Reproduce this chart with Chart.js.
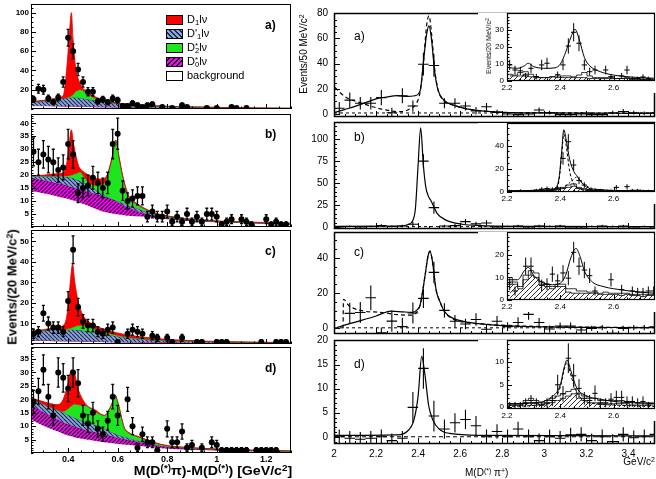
<!DOCTYPE html>
<html>
<head>
<meta charset="utf-8">
<script src="https://cdn.jsdelivr.net/npm/chart.js@4.4.1/dist/chart.umd.min.js"></script>
<style>
html, body { margin: 0; padding: 0; background: #fff; overflow: hidden; }
#fig { position: relative; width: 656px; height: 479px; font-family: "Liberation Sans", Arial, sans-serif; color: #000; }
#fig canvas { position: absolute; }
.t { position: absolute; white-space: nowrap; line-height: 1; }
.rot { transform: translate(-50%, -50%) rotate(-90deg); }
sup { font-size: 70%; vertical-align: 0; position: relative; top: -0.45em; }
sub { font-size: 70%; vertical-align: 0; position: relative; top: 0.3em; }
.sw { position: absolute; width: 17px; height: 10px; border: 1px solid #000; box-sizing: border-box; }
</style>
</head>
<body>
<div id="fig">
  <canvas id="la" style="left:0;top:0" width="300" height="113"></canvas>
  <canvas id="lb" style="left:0;top:110px" width="300" height="121"></canvas>
  <canvas id="lc" style="left:0;top:226px" width="300" height="122"></canvas>
  <canvas id="ld" style="left:0;top:343px" width="300" height="124"></canvas>
  <canvas id="ra" style="left:298px;top:5px" width="358" height="114"></canvas>
  <canvas id="rb" style="left:298px;top:119px" width="358" height="114"></canvas>
  <canvas id="rc" style="left:298px;top:228px" width="358" height="110"></canvas>
  <canvas id="rd" style="left:298px;top:333px" width="358" height="129"></canvas>
  <canvas id="ia" style="left:478px;top:6px" width="178" height="87"></canvas>
  <canvas id="ib" style="left:478px;top:116px" width="178" height="88"></canvas>
  <canvas id="ic" style="left:478px;top:225px" width="178" height="87"></canvas>
  <canvas id="id" style="left:478px;top:333px" width="178" height="88"></canvas>

  <!-- legend, panel a left -->
  <div class="sw" style="left:166px;top:15px;background:#f00"></div>
  <div class="t" style="left:187px;top:14px;font-size:11px">D<sub>1</sub>lν</div>
  <div class="sw" style="left:166px;top:29px;background:repeating-linear-gradient(45deg,#1a2a50 0 1px,#8ba5d6 1px 3.5px)"></div>
  <div class="t" style="left:187px;top:28px;font-size:11px">D'<sub>1</sub>lν</div>
  <div class="sw" style="left:166px;top:43px;background:#1ee61e"></div>
  <div class="t" style="left:187px;top:42px;font-size:11px">D<sup>*</sup><sub style="margin-left:-0.4em">2</sub>lν</div>
  <div class="sw" style="left:166px;top:57px;background:repeating-linear-gradient(-45deg,#000 0 1px,#ff00ff 1px 3.5px)"></div>
  <div class="t" style="left:187px;top:56px;font-size:11px">D<sup>*</sup><sub style="margin-left:-0.4em">0</sub>lν</div>
  <div class="sw" style="left:166px;top:71px;background:#fff"></div>
  <div class="t" style="left:187px;top:70px;font-size:11px">background</div>

  <div class="t" style="left:265px;top:19px;font-size:12px;font-weight:bold">a)</div>
  <div class="t" style="left:265px;top:128px;font-size:12px;font-weight:bold">b)</div>
  <div class="t" style="left:265px;top:245px;font-size:12px;font-weight:bold">c)</div>
  <div class="t" style="left:265px;top:362px;font-size:12px;font-weight:bold">d)</div>

  <div class="t rot" style="left:12px;top:287px;font-size:13px;font-weight:bold">Events/(20 MeV/c<sup>2</sup>)</div>
  <div class="t" style="right:364px;top:465px;font-size:12px;font-weight:bold;transform:scaleX(1.18);transform-origin:right center">M(D<sup>(*)</sup>π)-M(D<sup>(*)</sup>) [GeV/c<sup>2</sup>]</div>

  <div class="t" style="left:354px;top:30px;font-size:12px">a)</div>
  <div class="t" style="left:354px;top:131px;font-size:12px">b)</div>
  <div class="t" style="left:354px;top:246px;font-size:12px">c)</div>
  <div class="t" style="left:354px;top:358px;font-size:12px">d)</div>

  <div class="t rot" style="left:304px;top:54px;font-size:10px">Events/50 MeV/c<sup>2</sup></div>
  <div class="t rot" style="left:489px;top:46px;font-size:7px">Events/20 MeV/c<sup>2</sup></div>
  <div class="t" style="left:465px;top:468px;font-size:10px">M(D<sup>(*)</sup> π<sup>+</sup>)</div>
  <div class="t" style="right:1px;top:457px;font-size:10px">GeV/c<sup>2</sup></div>
</div>

<script>
// ---- left column: M(D(*)pi)-M(D(*)) in 20 MeV bins ----
const leftXTicks = [0.4, 0.6, 0.8, 1, 1.2];

const laX = [0.26,0.28,0.30,0.32,0.34,0.36,0.38,0.40,0.42,0.44,0.46,0.48,0.50,0.52,0.54,0.56,0.58,0.60,0.62,0.64,0.66,0.68,0.70,0.72,0.74,0.78,0.82,0.86,0.88,0.96,1.00,1.06,1.08,1.12];
const laY = [10,21,20,11,7,12,28,74,60,41,28,18,18,8,10,7,11,9,3,3,6,4,2,4,5,2,1,4,2,1,1,2,1,1];
const lbX = [0.26,0.28,0.30,0.32,0.34,0.36,0.38,0.40,0.42,0.44,0.46,0.48,0.50,0.52,0.54,0.56,0.58,0.60,0.62,0.64,0.66,0.68,0.70,0.72,0.74,0.76,0.78,0.80,0.82,0.84,0.86,0.88,0.90,0.92,0.94,0.96,0.98,1.00,1.02,1.04,1.06,1.10,1.12,1.14,1.20,1.22,1.24,1.26,1.28];
const lbY = [29,25,28,26,25,22,23,32,28,13,15,16,19,17,15,17,32,36,14,10,11,12,12,4,6,4,4,6,2,4,2,5,2,4,2,5,5,4,1,2,3,3,2,1,3,1,2,1,1];
const lcX = [0.26,0.28,0.30,0.32,0.34,0.36,0.38,0.40,0.42,0.44,0.46,0.48,0.50,0.52,0.54,0.56,0.58,0.60,0.64,0.66,0.68,0.70,0.74,0.76,0.80,0.82,0.86,0.92,0.94,1.00,1.02,1.04,1.18,1.24,1.26,1.28];
const lcY = [5,6,15,10,8,8,6,21,46,18,11,9,9,6,5,7,8,1,5,7,6,5,4,3,3,1,3,1,1,1,1,1,1,1,1,1];
const ldX = [0.26,0.28,0.30,0.32,0.34,0.36,0.38,0.40,0.42,0.44,0.46,0.48,0.50,0.52,0.54,0.56,0.58,0.60,0.64,0.66,0.68,0.70,0.72,0.74,0.76,0.80,0.82,0.84,0.86,0.88,0.90,0.94,0.98,1.00,1.02,1.04,1.06,1.08,1.10,1.12,1.16,1.18,1.20,1.22,1.24];
const ldY = [19,23,31,21,14,30,28,24,30,26,14,11,15,9,7,12,21,14,20,10,2,7,4,4,1,9,4,4,8,2,3,2,4,3,1,1,1,1,1,1,1,1,1,1,1];

// stacked fit components (cumulative tops): background, D0*, D1', D2*, D1
const laGrid = [0.25,0.30,0.35,0.38,0.395,0.405,0.413,0.42,0.43,0.45,0.48,0.52,0.57,0.65,0.75,0.90,1.10,1.30];
const laBg  = [3,3,2.8,2.7,2.6,2.6,2.5,2.5,2.4,2.3,2.1,1.9,1.7,1.4,1.1,0.8,0.5,0.3];
const laD0  = [3.4,3.4,3.2,3.1,3,3,2.9,2.9,2.8,2.7,2.5,2.3,2.1,1.7,1.3,1,0.6,0.4];
const laD1p = [7,8.5,10,11,11.5,12,12,12,12,11.5,10,8.5,6.5,4.5,3,2,1,0.6];
const laD2  = [7,8.5,10,11,12,12.8,13.5,15,18,20,15,10,7,4.7,3.1,2.1,1.1,0.7];
const laD1  = [7.5,9,11,14,44,78,100,72,44,26,17,11.5,7.5,5,3.3,2.2,1.2,0.8];

const lbGrid = [0.25,0.30,0.35,0.38,0.395,0.402,0.413,0.422,0.442,0.449,0.463,0.48,0.51,0.54,0.558,0.578,0.592,0.605,0.62,0.645,0.67,0.735,0.80,0.94,1.10,1.30];
const lbBg  = [14,13,12,11.3,11,10.8,10.5,10.2,9.6,9.4,8.9,8.3,7,6,5.6,5.2,5,4.8,4.6,4.3,4.1,3.8,3,2,1.5,1];
const lbD0  = [19,18,17,16.5,16,15.8,15.5,15.2,14.6,14.4,14,13.5,12.8,12,11.4,10.6,10,9.4,8.6,7.5,6.5,4.6,3.4,2.3,1.7,1.2];
const lbD1p = [19.6,19.6,19.5,19.4,19.3,19.2,19,18.7,18,17.7,17,16,14.3,12.6,11.7,10.8,10.3,9.8,9.2,8.3,7.5,5.1,3.8,2.4,1.8,1.3];
const lbD2  = [19.7,19.7,19.7,19.7,19.7,19.8,20,20.3,21,21.2,19.5,17.5,16,16.5,19.3,26.8,33.3,27,19.5,11.5,9.2,5.8,4.2,2.6,1.9,1.4];
const lbD1  = [19.8,20,20.5,21,25,30,37.5,32,23.6,22.5,21.2,20.2,18.8,18.5,20.3,27.3,33.6,27.4,20,12,9.6,6,4.3,2.7,2,1.5];

const lcGrid = [0.25,0.30,0.35,0.38,0.395,0.407,0.418,0.427,0.44,0.46,0.487,0.527,0.595,0.73,0.93,1.10,1.30];
const lcBg  = [1.5,1.5,1.4,1.3,1.3,1.2,1.2,1.2,1.2,1.1,1.1,1,0.8,0.6,0.4,0.3,0.2];
const lcD0  = [1.7,1.7,1.6,1.5,1.5,1.4,1.4,1.4,1.4,1.3,1.3,1.2,1,0.8,0.6,0.5,0.4];
const lcD1p = [6,6.5,7,7,7,7,7,7,6.8,6.5,6,5.3,3.8,2,1.2,0.8,0.5];
const lcD2  = [6.1,6.6,7.1,7.2,7.3,7.6,8,8.5,9,9,8,6.5,4.3,2.2,1.3,0.9,0.6];
const lcD1  = [6.3,7,8,9,14,28,39,30,21,14,10.5,8,5.5,3,1.5,1,0.7];

const ldGrid = [0.25,0.305,0.359,0.38,0.40,0.413,0.425,0.44,0.473,0.507,0.547,0.565,0.58,0.59,0.60,0.627,0.642,0.682,0.777,0.90,1.10,1.30];
const ldBg  = [12.5,10,8,7.2,6.5,6.2,5.9,5.6,5,4.6,4,3.8,3.6,3.5,3.4,3.2,3.1,2.7,1.8,1.2,0.7,0.4];
const ldD0  = [18,15,12.5,11.5,10.8,10.3,9.9,9.5,8.5,7.8,7,6.5,6.2,6,5.8,5.2,4.9,4.2,2.5,1.6,0.9,0.5];
const ldD1p = [20.5,18,16,15,14.2,13.7,13.2,12.5,11.5,10.5,8.9,8.2,7.6,7.2,6.8,6,5.6,4.6,2.6,1.7,1,0.6];
const ldD2  = [20.5,18,16,15.5,16.5,17.5,18.2,18,17.5,15.5,14,16,19,21.4,19,9.3,7.6,6,3,1.9,1.1,0.7];
const ldD1  = [20.6,19,18,20,26,31,30,24,18,16.2,14,16.2,19.2,21.5,19.2,9.4,7.8,6.2,3.2,2,1.2,0.8];

// ---- right column: M(D(*) pi+) in 50 MeV bins ----
const rightXTicks = [2, 2.2, 2.4, 2.6, 2.8, 3, 3.2, 3.4];
const rX = [2.025,2.075,2.125,2.175,2.225,2.275,2.325,2.375,2.425,2.475,2.525,2.575,2.625,2.675,2.725,2.775,2.825,2.875,2.925,2.975,3.025,3.075,3.125,3.175,3.225,3.275,3.325,3.375,3.425,3.475,3.525];
const raY = [4.5,11,8.5,8.5,13,1,14.5,6.3,39.5,38.5,8.5,8.5,6.3,2.5,5.8,1.3,0,-0.5,0,3.2,1,-0.5,-0.5,0,-0.5,-0.5,1,2,1,0.5,1];
const raE = [5,6,5,5,6,4,6,4.5,9,9,4,4,3.5,3,3,2,1.5,1.5,1.5,2,1.5,1.5,1.5,1.5,1.5,1.5,1.5,2,1.5,1.5,1.5];
const rbY = [0,0.5,0,0.5,1.5,0.5,1,3,75,22,1,1.5,6,3.5,4.5,0,0.5,1,0,1,0.5,1,0,0,0.5,1,0.5,1,0,0.5,0];
const rbE = [1,1,1,1,1.5,1,1.5,3,8,7,1.5,2,3,2.5,3,1,1,1.5,1,1.5,1,1.5,1,1,1,1.5,1,1.5,1,1,1];
const rcY = [null,8.5,9,17.3,-2.5,4.1,1,8.7,17,31.7,10.2,4,2.5,5,-0.5,4,1,3.3,7.9,3.3,-0.4,1.3,1.3,-0.9,0,0.4,-2.8,0,0.4,0.4,0.9];
const rcE = [0,6,6,7,3,6,5,6,5.5,6,4,3.5,3,3.5,2.5,3,2.5,3,3,2.5,2,2,2,2,1.5,1.5,2,1.5,1.5,1.5,1.5];
const rdY = [0,-0.3,-0.5,-0.3,0,-0.8,-0.3,6.1,14.2,4.3,1.6,2.9,3.6,2.3,0,1.1,0,1.6,0,-0.8,0,-0.3,0.4,0.5,-0.8,0,-1,0.5,-0.2,0,0.5];
const rdE = [1.5,1.5,1.5,1.5,1.5,1.5,1.5,3.2,4.2,3.2,2,2,2,2,1.5,1.5,1.5,1.5,1.5,1.5,1.5,1.5,1.5,1.5,1.5,1.5,1.5,1.5,1.5,1.5,1.5];

const raFit = [[2.0,1],[2.05,3.5],[2.1,6],[2.15,9],[2.2,12],[2.25,13.5],[2.3,14.5],[2.35,14],[2.385,14.5],[2.41,18.7],[2.425,41],[2.44,63],[2.452,70],[2.463,60],[2.479,33],[2.495,18.7],[2.52,11.4],[2.568,7],[2.62,4.5],[2.7,2.5],[2.8,1.3],[3.0,0.8],[3.526,0.5]];
const raAlt = [[2.005,21],[2.05,14],[2.13,8.6],[2.2,5],[2.258,2.8],[2.32,1.8],[2.36,4],[2.39,8],[2.41,18],[2.425,40],[2.44,70],[2.452,78],[2.463,65],[2.479,35],[2.495,19],[2.52,11],[2.568,7],[2.62,4.5],[2.7,2.5],[2.8,1.3],[3.0,0.8],[3.526,0.5]];
const raBase = [[2.0,0.8],[3.526,0.8]];
const rbFit = [[2.0,0.5],[2.3,1],[2.35,2.5],[2.376,8],[2.387,21],[2.399,67],[2.412,113],[2.425,70],[2.436,46],[2.447,36],[2.463,29],[2.49,15.5],[2.53,8],[2.61,3],[2.7,1.5],[3.0,0.6],[3.526,0.3]];
const rbBase = [[2.0,0.3],[3.526,0.3]];
const rcFit = [[2.013,0.4],[2.07,2.5],[2.13,4.5],[2.2,7],[2.27,9.8],[2.33,9.3],[2.37,9.1],[2.395,10.5],[2.41,13.5],[2.433,30],[2.447,41],[2.4565,43.8],[2.468,38],[2.485,22],[2.504,15],[2.528,9],[2.57,5.5],[2.615,4],[2.7,2.5],[2.8,1.5],[3.0,0.8],[3.526,0.4]];
const rcAlt = [[2.043,0],[2.045,16.5],[2.07,13],[2.14,9.8],[2.22,9.1],[2.3,7.8],[2.37,7.5],[2.395,9.5],[2.41,13.5],[2.433,30],[2.447,41],[2.4565,43.8],[2.468,38],[2.485,22],[2.504,15],[2.528,9],[2.57,5],[2.615,3.5],[2.7,2.5],[2.8,1.8],[3.0,1],[3.526,0.5]];
const rcBase = [[2.0,0.3],[3.526,0.3]];
const rdFit = [[2.0,0.3],[2.3,0.4],[2.35,1.2],[2.38,3.5],[2.40,8.5],[2.417,16.7],[2.432,13],[2.45,6.5],[2.47,3.5],[2.5,1.6],[2.55,0.7],[2.7,0.3],[3.526,0.2]];
const rdBase = [[2.0,0],[3.526,0]];

// ---- insets: 20 MeV bins ----
const insetXTicks = [2.2, 2.4, 2.6];
const iX = [2.21,2.23,2.25,2.27,2.29,2.31,2.33,2.35,2.37,2.39,2.41,2.43,2.45,2.47,2.49,2.51,2.53,2.55,2.57,2.59,2.61,2.63,2.65,2.67,2.69,2.71,2.73,2.75];
const iaY = [9.5,6.5,6,3,7.5,2.6,9.5,10.5,null,3.7,9.5,20.7,28.8,22.3,9.5,5.5,6.5,null,6.5,2.6,null,3,6.5,1.4,1.4,2.4,1.4,null];
const ibY = [1,0.5,1,0.5,1,1.5,2.5,3,2.5,3.5,29,43.4,23.3,10,6,2,1,1.5,0.5,1,4,0.5,4.6,1.5,1.5,1,1,null];
const icY = [7,4,null,15,15,null,6.5,7,11.5,8.5,12,9.7,21.2,15,13.3,10.8,4,null,null,9,null,4.6,null,4,3.5,3.5,4,4];
const idY = [0.5,0.5,0.5,1,1.5,1,0.5,1,1.5,5,3,10.9,7,4.2,2,1.5,3.1,1,1,1.8,2.2,2.2,1.3,1.3,1,1.3,0.5,null];
const iaHatch = [3,3,3,4,2.5,2,2,2,2.5,2,2,2,2,2,2,1.5,1.5,1.5,1.5,1.5,1.5,1.5,1.5,1,1,1,1,1];
const iaOpen  = [4,3.5,5,5.5,4,2.5,2,2,2.5,3,3,3,2.5,3.5,5,3,2,2,2,2,1.5,1.5,2,1.5,1.5,1,1,1];
const ibHatch = [0.5,0.5,0.5,0.5,0.5,0.5,1,1,1.5,2,3,4,5,3,2,1,1,0.5,0.5,0.5,0.5,0.5,0.5,0.5,0.5,0.5,0.5,0.5];
const ibOpen  = [1,1,1,1,1,1.5,2,2,2,3,4,6,7,4,3,2,1.5,1,1,1,1,1,1,1,1,1,1,1];
const icHatch = [8,7,5,9,11,10,7,6,5,6,6,3.5,3,3,3,3,3,2.5,2.5,2.5,2.5,2,2.5,2,2,1.5,2,2];
const icOpen  = [10,8,6,11,13,12,8,7,6,7,7,5,5,4,4,3.5,3.5,3,3.5,3,3,3,3,2.5,2.5,2.5,2.5,2.5];
const idHatch = [0.5,0.5,0.5,0.8,1,0.8,0.5,0.8,1,1.5,2,2.5,3,2,1.5,1,1,0.8,0.8,0.8,0.8,0.8,0.8,0.5,0.5,0.5,0.5,0.5];
const idOpen  = [0.8,0.8,0.8,1.5,2,1.5,1,1.5,2,2.5,3,3.5,4,3,2.5,2,2,1.5,1.5,1.5,1.5,1.5,1.2,1.2,1,1,1,1];

const iaFit = [[2.2,8],[2.24,7.5],[2.265,9],[2.28,10.5],[2.3,8.5],[2.35,7.5],[2.38,7.8],[2.40,10],[2.42,17],[2.44,26],[2.455,30.6],[2.47,25],[2.49,14],[2.51,9],[2.55,5.5],[2.6,3.5],[2.7,2],[2.755,1.6]];
const ibFit = [[2.2,1],[2.35,1.5],[2.38,3],[2.395,12],[2.405,35],[2.413,53.8],[2.422,45],[2.435,28],[2.45,18],[2.465,13],[2.48,8],[2.5,4],[2.55,2],[2.65,1.2],[2.755,1]];
const ibD1 = [[2.2,0.3],[2.38,2],[2.395,10],[2.405,32],[2.413,50],[2.422,40],[2.435,18],[2.45,7],[2.47,3],[2.5,1.2],[2.755,0.3]];
const ibD2 = [[2.2,0.2],[2.4,2],[2.43,7],[2.45,11],[2.462,13],[2.475,10],[2.5,5],[2.55,2],[2.755,0.5]];
const icFit = [[2.2,9],[2.24,9],[2.265,13],[2.28,14.5],[2.3,11],[2.33,8],[2.37,6.8],[2.40,7.5],[2.42,11],[2.44,19],[2.459,22.9],[2.475,19],[2.49,13],[2.52,8],[2.56,6],[2.6,5],[2.7,3.5],[2.755,3]];
const idFit = [[2.2,0.8],[2.3,1],[2.36,2],[2.40,5],[2.415,9],[2.425,10.5],[2.44,8],[2.46,4.5],[2.5,2.5],[2.55,1.8],[2.6,1.3],[2.755,0.8]];
const idAlt = [[2.2,0.2],[2.36,1],[2.40,4.5],[2.415,8.5],[2.425,10],[2.44,7],[2.46,3.5],[2.5,1.2],[2.6,0.5],[2.755,0.2]];

Chart.defaults.font.family = '"Liberation Sans", Arial, sans-serif';
Chart.defaults.color = '#000';

function hatch(bg, ink, back, step, w) {
    const c = document.createElement('canvas');
    c.width = c.height = step;
    const g = c.getContext('2d');
    if (bg) {
        g.fillStyle = bg;
        g.fillRect(0, 0, step, step);
    }
    g.strokeStyle = ink;
    g.lineWidth = w;
    g.beginPath();
    for (let k = -1; k <= 1; k++) {
        if (back) { g.moveTo(k * step, 0); g.lineTo(k * step + step, step); }
        else { g.moveTo(k * step, step); g.lineTo(k * step + step, 0); }
    }
    g.stroke();
    return g.createPattern(c, 'repeat');
}

const blueHatch = hatch('#8ba5d6', '#1a2a50', true, 4, 1.1);
const magHatch = hatch('#ff00ff', '#000', false, 4, 1.1);
const histHatch = hatch(null, '#000', false, 5, 0.8);

// ROOT-like frame with ticks pointing inwards
const rootFrame = {
    id: 'rootFrame',
    beforeDraw(chart, args, o) {
        if (!o.white) return;
        const g = chart.ctx;
        g.save();
        g.fillStyle = '#fff';
        g.fillRect(0, chart.chartArea.top, chart.width, chart.height - chart.chartArea.top);
        g.restore();
    },
    afterDatasetsDraw(chart, args, o) {
        const g = chart.ctx, a = chart.chartArea, sx = chart.scales.x, sy = chart.scales.y;
        g.save();
        g.strokeStyle = '#000';
        g.lineWidth = 1;
        g.beginPath();
        for (let k = Math.ceil(sx.min / o.xm - 1e-6); k * o.xm <= sx.max + 1e-9; k++) {
            const v = k * o.xm;
            const major = o.xt.some(t => Math.abs(t - v) < o.xm / 10);
            const p = Math.round(sx.getPixelForValue(v)) + 0.5;
            g.moveTo(p, a.bottom);
            g.lineTo(p, a.bottom - (major ? o.len : o.len / 2));
        }
        for (let k = Math.ceil(sy.min / o.ym - 1e-6); k * o.ym <= sy.max + 1e-9; k++) {
            const v = k * o.ym;
            const major = o.yt.some(t => Math.abs(t - v) < o.ym / 10);
            const p = Math.round(sy.getPixelForValue(v)) + 0.5;
            g.moveTo(a.left, p);
            g.lineTo(a.left + (major ? o.len : o.len / 2), p);
        }
        g.stroke();
        g.lineWidth = o.lw;
        g.strokeRect(Math.round(a.left) + 0.5, Math.round(a.top) + 0.5, Math.round(a.right - a.left) - 1, Math.round(a.bottom - a.top) - 1);
        g.restore();
    }
};

// error bars (and bin-width bars) drawn through the scales
const errBars = {
    id: 'errBars',
    afterDatasetsDraw(chart) {
        const g = chart.ctx, a = chart.chartArea, sx = chart.scales.x, sy = chart.scales.y;
        g.save();
        g.beginPath();
        g.rect(a.left, a.top, a.right - a.left, a.bottom - a.top);
        g.clip();
        g.strokeStyle = '#000';
        chart.data.datasets.forEach(ds => {
            if (!ds.errs) return;
            g.lineWidth = ds.errWidth;
            g.beginPath();
            ds.data.forEach(p => {
                const e = ds.errs === 'poisson' ? Math.sqrt(Math.max(p.y, 0)) : p.e;
                const px = sx.getPixelForValue(p.x);
                const y0 = sy.getPixelForValue(p.y - e), y1 = sy.getPixelForValue(p.y + e);
                g.moveTo(px, y0);
                g.lineTo(px, y1);
                if (ds.cap) {
                    g.moveTo(px - ds.cap, y0); g.lineTo(px + ds.cap, y0);
                    g.moveTo(px - ds.cap, y1); g.lineTo(px + ds.cap, y1);
                }
                if (ds.errX) {
                    const py = sy.getPixelForValue(p.y);
                    g.moveTo(sx.getPixelForValue(p.x - ds.errX), py);
                    g.lineTo(sx.getPixelForValue(p.x + ds.errX), py);
                }
            });
            g.stroke();
        });
        g.restore();
    }
};

function axis(a, f, horiz) {
    return {
        type: 'linear',
        min: a.min,
        max: a.max,
        grid: { display: false, drawTicks: false },
        border: { display: false },
        ticks: {
            display: !!a.show,
            padding: a.pad || 2,
            font: a.font,
            color: '#000',
            maxRotation: 0,
            autoSkip: false,
            callback: v => String(v)
        },
        afterBuildTicks: s => { s.ticks = a.ticks.map(v => ({ value: v })); },
        afterFit: s => {
            if (horiz) s.height = f.hx; else s.width = f.wy;
            s.paddingTop = s.paddingBottom = s.paddingLeft = s.paddingRight = 0;
        }
    };
}

function plot(id, f, ax, ay, datasets) {
    return new Chart(document.getElementById(id), {
        type: 'line',
        data: { datasets },
        options: {
            responsive: false,
            animation: false,
            devicePixelRatio: 1,
            events: [],
            layout: { padding: { top: f.pt, right: f.pr, bottom: 0, left: 0 } },
            plugins: { legend: { display: false }, tooltip: { enabled: false }, rootFrame: f },
            scales: { x: axis(ax, f, true), y: axis(ay, f, false) }
        },
        plugins: [rootFrame, errBars]
    });
}

const pairs = arr => arr.map(([x, y]) => ({ x, y }));

function line(arr, dash, w) {
    return { data: pairs(arr), borderColor: '#000', borderWidth: w || 1.2, borderDash: dash || [],
             pointRadius: 0, fill: false, cubicInterpolationMode: 'monotone', order: 1 };
}

function marks(xs, ys, es, extra) {
    const data = xs.map((x, i) => ({ x, y: ys[i], e: es ? es[i] : 0 })).filter(p => p.y !== null);
    return Object.assign({ data, showLine: false, pointRadius: 0, order: 0 }, extra);
}

function layer(grid, ys, color, edge, fill, order) {
    return { data: grid.map((x, i) => ({ x, y: ys[i] })), backgroundColor: color, borderColor: edge,
             borderWidth: 0.8, fill, order, pointRadius: 0, cubicInterpolationMode: 'monotone' };
}

function hist(ys, pattern, order) {
    return { data: iX.map((x, i) => ({ x, y: ys[i] })), stepped: 'middle', borderColor: '#000', borderWidth: 0.8,
             backgroundColor: pattern || 'rgba(0,0,0,0)', fill: pattern ? 'origin' : false, pointRadius: 0, order };
}

function leftPanel(id, f, yMax, yTicks, showX, xs, ys, grid, bg, d0, d1p, d2, d1) {
    const tickFont = { size: 8, weight: 'bold' };
    plot(id, f,
        { min: 0.25, max: 1.3, ticks: leftXTicks, show: showX, pad: 1, font: { size: 9, weight: 'bold' } },
        { min: 0, max: yMax, ticks: yTicks, show: true, pad: 2, font: tickFont },
        [
            marks(xs, ys, null, { pointRadius: 3, pointBackgroundColor: '#000', pointBorderWidth: 0,
                                  errs: 'poisson', errWidth: 1.3, cap: 1.5 }),
            layer(grid, bg, '#fff', 'rgba(0,0,0,0)', 'origin', 5),
            layer(grid, d0, magHatch, '#a000a0', '-1', 4),
            layer(grid, d1p, blueHatch, '#2a3a70', '-1', 3),
            layer(grid, d2, '#1ee61e', '#10a010', '-1', 2),
            layer(grid, d1, '#ff0000', '#d00000', '-1', 1)
        ]);
}

const lf = (pt, hx) => ({ pt, pr: 9, wy: 31, hx, xt: leftXTicks, xm: 0.05, len: 5, lw: 1 });
leftPanel('la', Object.assign(lf(3, 2), { yt: [20, 40, 60, 80, 100], ym: 5 }), 109, [20, 40, 60, 80, 100], false,
    laX, laY, laGrid, laBg, laD0, laD1p, laD2, laD1);
leftPanel('lb', Object.assign(lf(3, 2), { yt: [5, 10, 15, 20, 25, 30, 35, 40], ym: 1 }), 43.6, [5, 10, 15, 20, 25, 30, 35, 40], false,
    lbX, lbY, lbGrid, lbBg, lbD0, lbD1p, lbD2, lbD1);
leftPanel('lc', Object.assign(lf(4, 2), { yt: [10, 20, 30, 40, 50], ym: 2 }), 55.6, [10, 20, 30, 40, 50], false,
    lcX, lcY, lcGrid, lcBg, lcD0, lcD1p, lcD2, lcD1);
leftPanel('ld', Object.assign(lf(4, 14), { yt: [5, 10, 15, 20, 25, 30, 35], ym: 1 }), 39.5, [5, 10, 15, 20, 25, 30, 35], true,
    ldX, ldY, ldGrid, ldBg, ldD0, ldD1p, ldD2, ldD1);

function rightPanel(id, f, yMin, yMax, yTicks, yMinor, showX, ys, es, curves) {
    const tickFont = { size: 10 };
    plot(id, Object.assign({ pr: 1, wy: 36, xt: rightXTicks, xm: 0.05, yt: yTicks, ym: yMinor, len: 6, lw: 1.5 }, f),
        { min: 2.0, max: 3.526, ticks: rightXTicks, show: showX, pad: 4, font: tickFont },
        { min: yMin, max: yMax, ticks: yTicks, show: true, pad: 6, font: tickFont },
        [marks(rX, ys, es, { errs: 'list', errWidth: 1.1, errX: 0.025 })].concat(curves));
}

rightPanel('ra', { pt: 8, hx: 2 }, -2.4, 80.2, [0, 20, 40, 60, 80], 5, false, raY, raE,
    [line(raFit), line(raAlt, [4, 3]), line(raBase, [3, 3], 1)]);
rightPanel('rb', { pt: 3, hx: 4 }, -2.4, 119.7, [0, 25, 50, 75, 100], 5, false, rbY, rbE,
    [line(rbFit), line(rbBase, [3, 3], 1)]);
rightPanel('rc', { pt: 4, hx: 4 }, -3.2, 54.6, [0, 20, 40], 5, false, rcY, rcE,
    [line(rcFit), line(rcAlt, [4, 3]), line(rcBase, [3, 3], 1)]);
rightPanel('rd', { pt: 7, hx: 18 }, -1.5, 20.1, [0, 5, 10, 15, 20], 1, true, rdY, rdE,
    [line(rdFit), line(rdBase, [4, 3], 1)]);

function insetPanel(id, yMin, yMax, yTicks, yMinor, ys, hatched, open, curves) {
    const tickFont = { size: 8 };
    plot(id, { pt: 7, pr: 1, wy: 29, hx: 12, xt: insetXTicks, xm: 0.05, yt: yTicks, ym: yMinor, len: 5, lw: 1.2, white: true },
        { min: 2.2, max: 2.755, ticks: insetXTicks, show: true, pad: 2, font: tickFont },
        { min: yMin, max: yMax, ticks: yTicks, show: true, pad: 3, font: tickFont },
        [marks(iX, ys, null, { errs: 'poisson', errWidth: 1, errX: 0.01 }),
         hist(hatched, histHatch, 4), hist(open, null, 3)].concat(curves));
}

insetPanel('ia', 0, 40.2, [0, 10, 20, 30], 2, iaY, iaHatch, iaOpen, [line(iaFit, [], 1)]);
insetPanel('ib', 0, 59.6, [0, 20, 40], 5, ibY, ibHatch, ibOpen, [line(ibFit, [], 1), line(ibD1, [3, 2], 1), line(ibD2, [2, 2], 1)]);
insetPanel('ic', 0, 30.2, [0, 10, 20], 2, icY, icHatch, icOpen, [line(icFit, [], 1)]);
insetPanel('id', -0.38, 14.95, [0, 5, 10], 1, idY, idHatch, idOpen, [line(idFit, [], 1), line(idAlt, [3, 2], 1)]);
</script>
</body>
</html>
